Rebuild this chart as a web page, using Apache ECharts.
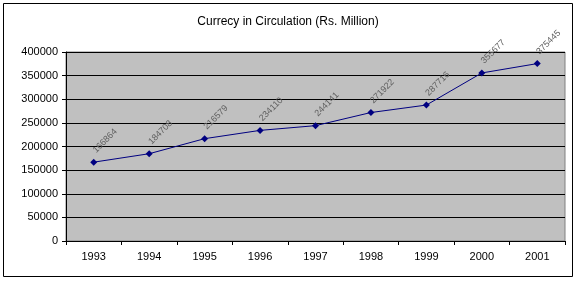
<!DOCTYPE html>
<html><head><meta charset="utf-8">
<script src="https://cdn.jsdelivr.net/npm/echarts@6/dist/echarts.min.js"></script>
<style>html,body{margin:0;padding:0;background:#fff}#c{width:576px;height:281px}</style>
</head><body><div id="c"></div>
<script>
const titleText = 'Currecy in Circulation (Rs. Million)';
const years = ['1993','1994','1995','1996','1997','1998','1999','2000','2001'];
const currency = [166864,184708,216579,234110,244141,271922,287716,355677,375445];
const yTicks = [0,50000,100000,150000,200000,250000,300000,350000,400000];

const chart = echarts.init(document.getElementById('c'), null, {renderer:'canvas'});
chart.setOption({
  animation:false,
  backgroundColor:'#fff',
  title:{text:titleText,left:'center',top:11,textStyle:{fontFamily:'Liberation Sans, Arial',fontSize:12,fontWeight:'normal',color:'#000'}},
  graphic:[{type:'rect',shape:{x:3.5,y:3.5,width:569,height:273},style:{fill:'none',stroke:'#000',lineWidth:1},silent:true,z:-1}],
  grid:{left:66,right:11,top:52,bottom:40,show:true,backgroundColor:'#C0C0C0',borderColor:'#808080',borderWidth:1},
  xAxis:{type:'category',data:years,boundaryGap:true,
    axisLine:{lineStyle:{color:'#000'}},
    axisTick:{show:true,alignWithLabel:false,length:4,lineStyle:{color:'#000'}},
    axisLabel:{fontFamily:'Liberation Sans, Arial',fontSize:11,color:'#000',margin:10}},
  yAxis:{type:'value',min:yTicks[0],max:yTicks[yTicks.length-1],interval:50000,
    axisLine:{show:true,lineStyle:{color:'#000'}},
    axisTick:{show:true,length:4,lineStyle:{color:'#000'}},
    splitLine:{lineStyle:{color:'#000',width:1}},
    axisLabel:{fontFamily:'Liberation Sans, Arial',fontSize:11,color:'#000',margin:8,formatter:v=>String(v)}},
  series:[{type:'line',data:currency,symbol:'diamond',symbolSize:7,
    lineStyle:{color:'#000080',width:1},itemStyle:{color:'#000080'},
    label:{show:true,position:'top',rotate:45,align:'left',verticalAlign:'middle',offset:[2,-1],
      fontFamily:'Liberation Sans, Arial',fontSize:9,color:'#606060'}}]
});
</script></body></html>
